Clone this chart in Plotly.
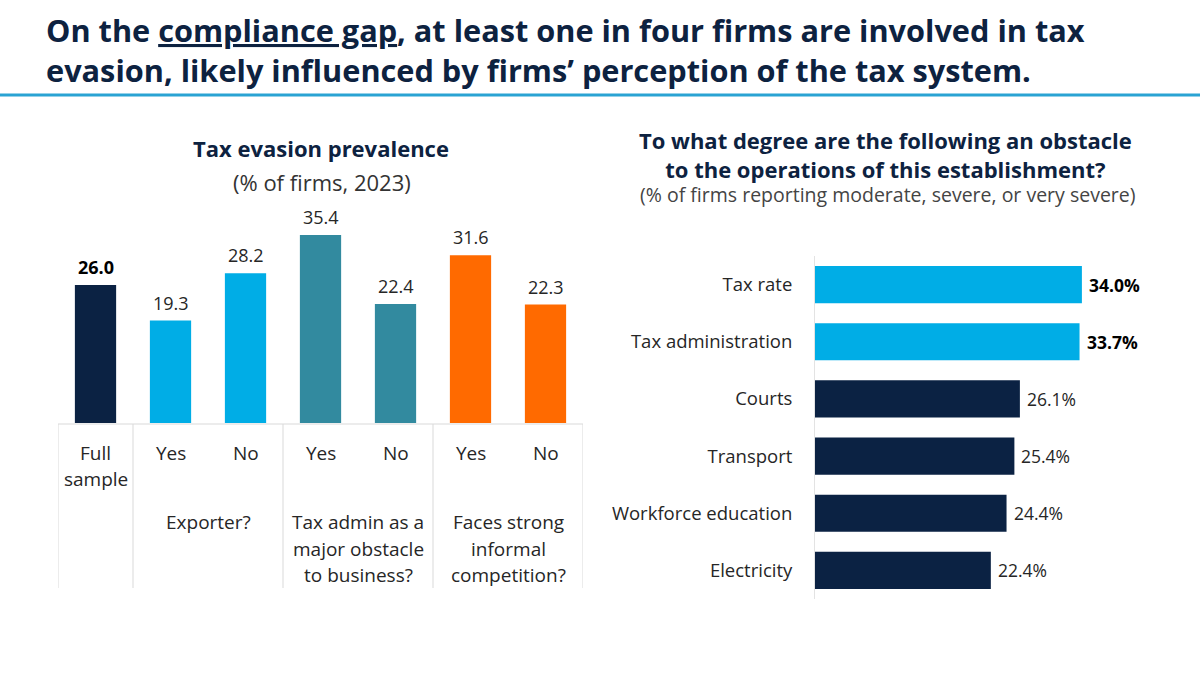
import plotly.graph_objects as go

W, H = 1200, 675

# ---------------- Data ----------------
left_categories = ["Full<br>sample", "Yes", "No", "Yes", "No", "Yes", "No"]
left_values = [26.0, 19.3, 28.2, 35.4, 22.4, 31.6, 22.3]
left_group_of_bar = [0, 1, 1, 2, 2, 3, 3]
group_labels = ["", "Exporter?", "Tax admin as a<br>major obstacle<br>to business?",
                "Faces strong<br>informal<br>competition?"]

obstacles = ["Tax rate", "Tax administration", "Courts", "Transport",
             "Workforce education", "Electricity"]
obstacle_values = [34.0, 33.7, 26.1, 25.4, 24.4, 22.4]
obstacle_highlight = [True, True, False, False, False, False]

# ---------------- Styles ----------------
NAVY = "#0b2243"
LIGHT = "#00ade6"
TEAL = "#328a9f"
ORANGE = "#ff6a00"
group_colors = [NAVY, LIGHT, TEAL, ORANGE]
TITLE_C = "#0d2240"
TXT = "#262626"
GRID = "#d9d9d9"
FONT = "Open Sans"
LINE_H = 26.5

def px_x(p):
    return p / W

def px_y(p):
    return 1 - p / H

fig = go.Figure()

# Left bar chart
xs = list(range(len(left_values)))
fig.add_trace(go.Bar(
    x=xs, y=left_values,
    marker=dict(color=[group_colors[g] for g in left_group_of_bar], line=dict(width=0)),
    width=0.55, xaxis="x", yaxis="y", hoverinfo="skip", showlegend=False,
))

# Right horizontal bar chart
fig.add_trace(go.Bar(
    x=obstacle_values, y=obstacles, orientation="h",
    marker=dict(color=[LIGHT if h else NAVY for h in obstacle_highlight], line=dict(width=0)),
    width=0.65, xaxis="x2", yaxis="y2", hoverinfo="skip", showlegend=False,
))

# Axis geometry (pixels)
L_X0, L_X1 = 58, 583
L_BOT = 423
L_PPU = 5.31
L_YMAX = 40
L_TOP = L_BOT - L_PPU * L_YMAX

R_X0 = 815
R_PPU = 7.85
R_XMAX = 45
R_Y0, R_Y1 = 256, 599

annotations = []
shapes = []

# Title
annotations.append(dict(
    text="On the <u>compliance gap</u>, at least one in four firms are involved in tax",
    xref="paper", yref="paper", x=px_x(44), y=px_y(30), xanchor="left", yanchor="middle",
    showarrow=False, font=dict(family=FONT, size=30.7, color=TITLE_C, weight="bold")))
annotations.append(dict(
    text="evasion, likely influenced by firms’ perception of the tax system.",
    xref="paper", yref="paper", x=px_x(44), y=px_y(70), xanchor="left", yanchor="middle",
    showarrow=False, font=dict(family=FONT, size=30.7, color=TITLE_C, weight="bold")))
shapes.append(dict(type="line", xref="paper", yref="paper", x0=0, x1=1,
                   y0=px_y(95), y1=px_y(95), line=dict(color="#2aa3d3", width=3)))

# Left chart titles
annotations.append(dict(text="<b>Tax evasion prevalence</b>", xref="paper", yref="paper",
                        x=px_x(321), y=px_y(148), xanchor="center", yanchor="middle",
                        showarrow=False, font=dict(family=FONT, size=22, color=TITLE_C)))
annotations.append(dict(text="(% of firms, 2023)", xref="paper", yref="paper",
                        x=px_x(322), y=px_y(182), xanchor="center", yanchor="middle",
                        showarrow=False, font=dict(family=FONT, size=22, color="#333333")))

# Left value labels
for i, v in enumerate(left_values):
    t = f"{v:.1f}"
    if i == 0:
        t = f"<b>{t}</b>"
    annotations.append(dict(text=t, x=i, y=v, xref="x", yref="y", xanchor="center",
                            yanchor="bottom", yshift=4, showarrow=False,
                            font=dict(family=FONT, size=18, color="#000000" if i == 0 else TXT)))

def multiline(text, xval, y_first_center):
    for k, line in enumerate(text.split("<br>")):
        annotations.append(dict(text=line, x=xval, xref="x",
                                y=px_y(y_first_center + k * LINE_H), yref="paper",
                                xanchor="center", yanchor="middle", showarrow=False,
                                font=dict(family=FONT, size=19, color=TXT)))

# Left category labels
for i, c in enumerate(left_categories):
    multiline(c, i, 453)

# Group labels and separators
group_spans = {}
for i, g in enumerate(left_group_of_bar):
    group_spans.setdefault(g, []).append(i)
for g, idxs in group_spans.items():
    if group_labels[g]:
        multiline(group_labels[g], sum(idxs) / len(idxs), 522)
bounds = sorted({min(i) - 0.5 for i in group_spans.values()} | {max(i) + 0.5 for i in group_spans.values()})
for b in bounds:
    shapes.append(dict(type="line", xref="x", yref="paper", x0=b, x1=b,
                       y0=px_y(424), y1=px_y(588), line=dict(color=GRID, width=1)))
shapes.append(dict(type="line", xref="x", yref="paper", x0=bounds[0], x1=bounds[-1],
                   y0=px_y(424), y1=px_y(424), line=dict(color=GRID, width=1)))

# Right chart titles
annotations.append(dict(text="<b>To what degree are the following an obstacle<br>to the operations of this establishment?</b>",
                        xref="paper", yref="paper",
                        x=px_x(885), y=px_y(154.5), xanchor="center", yanchor="middle",
                        showarrow=False, font=dict(family=FONT, size=22, color=TITLE_C)))
annotations.append(dict(text="(% of firms reporting moderate, severe, or very severe)", xref="paper", yref="paper",
                        x=px_x(888), y=px_y(195), xanchor="center", yanchor="middle",
                        showarrow=False, font=dict(family=FONT, size=19.5, color="#444444")))

# Right value labels
for name, v, hl in zip(obstacles, obstacle_values, obstacle_highlight):
    t = f"{v:.1f}%"
    if hl:
        t = f"<b>{t}</b>"
    annotations.append(dict(text=t, x=v, y=name, xref="x2", yref="y2", xanchor="left",
                            yanchor="middle", xshift=5, showarrow=False,
                            font=dict(family=FONT, size=17.5, color="#000000" if hl else TXT)))

fig.update_layout(
    width=W, height=H,
    margin=dict(l=0, r=0, t=0, b=0),
    paper_bgcolor="white", plot_bgcolor="rgba(0,0,0,0)",
    font=dict(family=FONT, color=TXT),
    xaxis=dict(domain=[px_x(L_X0), px_x(L_X1)], range=[-0.5, 6.5], visible=False, fixedrange=True),
    yaxis=dict(domain=[px_y(L_BOT), px_y(L_TOP)], range=[0, L_YMAX], visible=False, fixedrange=True),
    xaxis2=dict(domain=[px_x(R_X0), px_x(R_X0 + R_PPU * R_XMAX)], range=[0, R_XMAX], anchor="y2",
                showgrid=False, zeroline=False, showticklabels=False, showline=False, fixedrange=True),
    yaxis2=dict(domain=[px_y(R_Y1), px_y(R_Y0)], anchor="x2", autorange="reversed",
                categoryorder="array", categoryarray=obstacles,
                showline=True, linecolor="#e3e3e3", linewidth=1, ticks="", showgrid=False,
                ticklabelstandoff=18, tickfont=dict(family=FONT, size=18.5, color=TXT), fixedrange=True),
    annotations=annotations,
    shapes=shapes,
    bargap=0.35,
)

fig.write_html("out.html", config={"displayModeBar": False},
               post_script="document.body.style.margin='0px';document.body.style.padding='0px';")
